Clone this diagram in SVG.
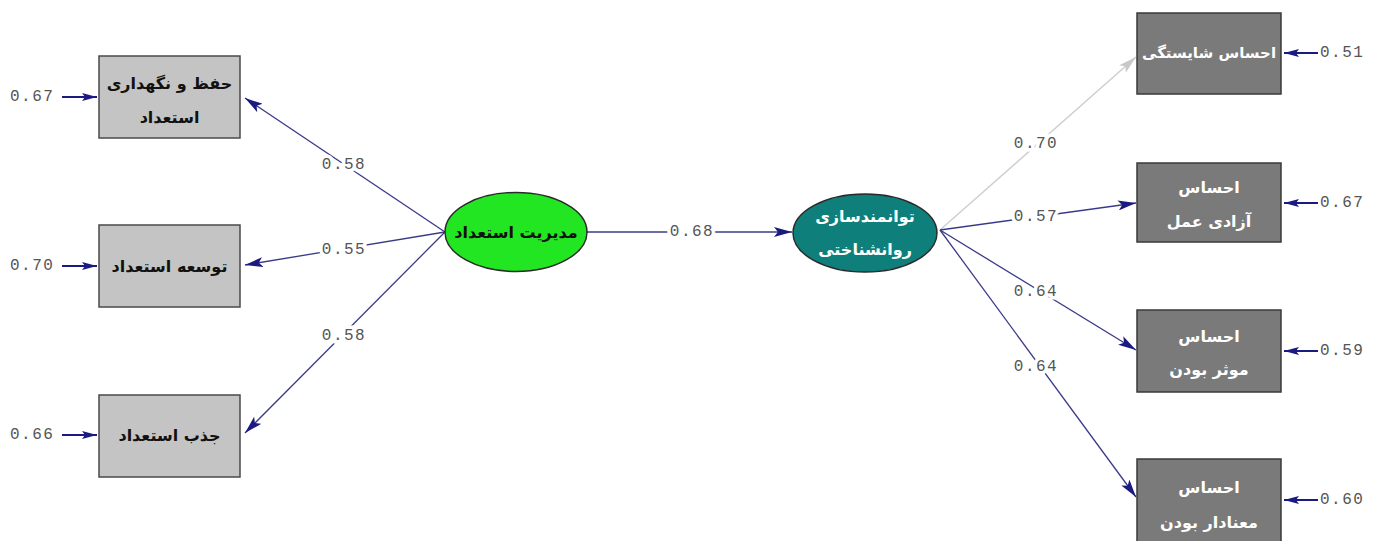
<svg xmlns="http://www.w3.org/2000/svg" width="1383" height="541" viewBox="0 0 1383 541">
<style>
.bg{fill:#ffffff}
.lbox{fill:#c4c4c4;stroke:#4a4a4a;stroke-width:1.5}
.rbox{fill:#7a7a7a;stroke:#3a3a3a;stroke-width:1.5}
.fa{font-family:"DejaVu Sans","Noto Sans",sans-serif;font-weight:bold;font-size:16px;text-anchor:middle;dominant-baseline:central}
.dark{fill:#111111}
.light{fill:#ffffff}
.num{font-family:"Liberation Mono","DejaVu Sans Mono",monospace;font-size:16px;fill:#555555;letter-spacing:1.5px;dominant-baseline:central}
.halo{stroke:#ffffff;stroke-width:7;paint-order:stroke;text-anchor:middle}
.ln{stroke:#3a3a8a;stroke-width:1.3;fill:none}
.lg{stroke:#cfcfcf;stroke-width:1.5;fill:none}
.err{stroke:#1a1a80;stroke-width:2;fill:none}
</style>
<defs>
<marker id="ah" viewBox="0 0 18 10" markerWidth="18" markerHeight="10" refX="18" refY="5" orient="auto" markerUnits="userSpaceOnUse">
<path d="M0,0 L18,5 L0,10 L4,5 z" fill="#1a1a80"/>
</marker>
<marker id="ahg" viewBox="0 0 18 10" markerWidth="18" markerHeight="10" refX="18" refY="5" orient="auto" markerUnits="userSpaceOnUse">
<path d="M0,0 L18,5 L0,10 L4,5 z" fill="#c8c8c8"/>
</marker>
<marker id="ahs" viewBox="0 0 15 8" markerWidth="15" markerHeight="8" refX="15" refY="4" orient="auto" markerUnits="userSpaceOnUse">
<path d="M0,0 L15,4 L0,8 L3,4 z" fill="#1a1a80"/>
</marker>
</defs>
<rect class="bg" x="0" y="0" width="1383" height="541"/>

<g id="connectors">
<line class="ln" x1="445" y1="232" x2="245" y2="98" marker-end="url(#ah)"/>
<line class="ln" x1="445" y1="232" x2="245" y2="265" marker-end="url(#ah)"/>
<line class="ln" x1="445" y1="232" x2="245" y2="433" marker-end="url(#ah)"/>
<line class="ln" x1="587" y1="232" x2="792" y2="232" marker-end="url(#ah)"/>
<line class="lg" x1="940" y1="230" x2="1136" y2="57" marker-end="url(#ahg)"/>
<line class="ln" x1="940" y1="230" x2="1136" y2="203" marker-end="url(#ah)"/>
<line class="ln" x1="940" y1="230" x2="1136" y2="350" marker-end="url(#ah)"/>
<line class="ln" x1="940" y1="230" x2="1136" y2="497" marker-end="url(#ah)"/>
<line class="err" x1="62" y1="97" x2="97" y2="97" marker-end="url(#ahs)"/>
<line class="err" x1="62" y1="266" x2="97" y2="266" marker-end="url(#ahs)"/>
<line class="err" x1="62" y1="435" x2="97" y2="435" marker-end="url(#ahs)"/>
<line class="err" x1="1318" y1="53" x2="1284" y2="53" marker-end="url(#ahs)"/>
<line class="err" x1="1318" y1="203" x2="1284" y2="203" marker-end="url(#ahs)"/>
<line class="err" x1="1318" y1="351" x2="1284" y2="351" marker-end="url(#ahs)"/>
<line class="err" x1="1318" y1="500" x2="1284" y2="500" marker-end="url(#ahs)"/>
<text class="num halo" x="344" y="165">0.58</text>
<text class="num halo" x="344" y="250">0.55</text>
<text class="num halo" x="344" y="336">0.58</text>
<text class="num halo" x="692" y="232">0.68</text>
<text class="num halo" x="1036" y="144">0.70</text>
<text class="num halo" x="1036" y="217">0.57</text>
<text class="num halo" x="1036" y="292">0.64</text>
<text class="num halo" x="1036" y="367">0.64</text>
<text class="num" x="10" y="97">0.67</text>
<text class="num" x="10" y="266">0.70</text>
<text class="num" x="10" y="435">0.66</text>
<text class="num" x="1320" y="53">0.51</text>
<text class="num" x="1320" y="203">0.67</text>
<text class="num" x="1320" y="351">0.59</text>
<text class="num" x="1320" y="500">0.60</text>
</g>

<g id="n_hefz">
<rect class="lbox" x="99" y="56" width="141" height="82"/>
<text class="fa dark" x="169.5" y="83">حفظ و نگهداری</text>
<text class="fa dark" x="169.5" y="117">استعداد</text>
</g>
<g id="n_tosee">
<rect class="lbox" x="99" y="225" width="141" height="82"/>
<text class="fa dark" x="169.5" y="266">توسعه استعداد</text>
</g>
<g id="n_jazb">
<rect class="lbox" x="99" y="395" width="141" height="82"/>
<text class="fa dark" x="169.5" y="435">جذب استعداد</text>
</g>

<g id="n_modiriat">
<ellipse cx="516" cy="232" rx="71" ry="39.5" fill="#22e622" stroke="#2a2a2a" stroke-width="1.5"/>
<text class="fa dark" x="516" y="232">مدیریت استعداد</text>
</g>
<g id="n_tavanmand">
<ellipse cx="865" cy="233" rx="72" ry="39" fill="#0f7f7c" stroke="#2a2a2a" stroke-width="1.5"/>
<text class="fa light" x="865" y="216">توانمندسازی</text>
<text class="fa light" x="865" y="249">روانشناختی</text>
</g>

<g id="n_shayestegi">
<rect class="rbox" x="1137" y="13" width="144" height="81"/>
<text class="fa light" x="1209" y="53" style="font-size:15px">احساس شایستگی</text>
</g>
<g id="n_azadi">
<rect class="rbox" x="1137" y="163" width="144" height="79"/>
<text class="fa light" x="1209" y="187">احساس</text>
<text class="fa light" x="1209" y="221">آزادی عمل</text>
</g>
<g id="n_moaser">
<rect class="rbox" x="1137" y="310" width="144" height="82"/>
<text class="fa light" x="1209" y="336">احساس</text>
<text class="fa light" x="1209" y="369">موثر بودن</text>
</g>
<g id="n_manadar">
<rect class="rbox" x="1137" y="459" width="144" height="84"/>
<text class="fa light" x="1209" y="487">احساس</text>
<text class="fa light" x="1209" y="522">معنادار بودن</text>
</g>
</svg>
